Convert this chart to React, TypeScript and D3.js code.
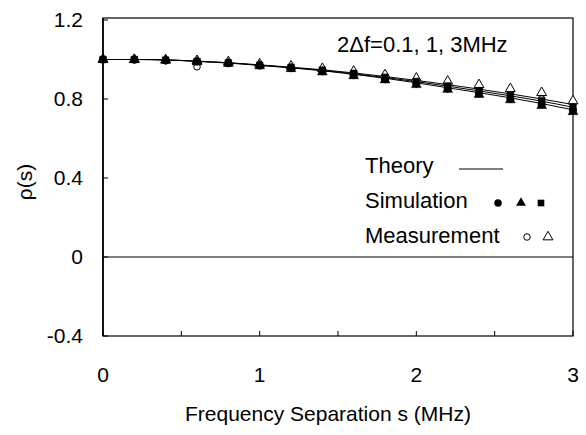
import * as d3 from "d3";

// frequency separation s (MHz)
const sep = [0, 0.2, 0.4, 0.6, 0.8, 1.0, 1.2, 1.4, 1.6, 1.8, 2.0, 2.2, 2.4, 2.6, 2.8, 3.0];

// theory curves for 2Δf = 0.1, 1, 3 MHz
const theory01 = [1.0, 1.0, 0.998, 0.99, 0.982, 0.97, 0.958, 0.943, 0.925, 0.905, 0.882, 0.857, 0.832, 0.806, 0.777, 0.745];
const theory1 = [1.0, 1.0, 0.998, 0.991, 0.983, 0.971, 0.959, 0.945, 0.928, 0.909, 0.888, 0.865, 0.841, 0.816, 0.789, 0.758];
const theory3 = [1.0, 1.0, 0.998, 0.992, 0.984, 0.973, 0.961, 0.948, 0.932, 0.914, 0.894, 0.873, 0.85, 0.826, 0.8, 0.772];

// simulation (filled markers)
const simCircle = [1.0, 1.0, 0.996, 0.99, 0.981, 0.969, 0.956, 0.94, 0.921, 0.9, 0.877, 0.852, 0.828, 0.8, 0.772, 0.742];
const simTriangle = [1.0, 0.999, 0.995, 0.987, 0.979, 0.967, 0.953, 0.936, 0.917, 0.896, 0.872, 0.848, 0.822, 0.795, 0.766, 0.735];
const simSquare = [1.0, 1.0, 0.997, 0.99, 0.983, 0.971, 0.96, 0.946, 0.93, 0.91, 0.889, 0.866, 0.842, 0.818, 0.791, 0.76];

// measurement (open markers)
const measCircle = [1.0, 0.998, 0.993, 0.963, 0.982, 0.97, 0.957, 0.945, 0.929, 0.912, 0.895, 0.872, 0.852, 0.828, 0.8, 0.78];
const measTriangle = [1.0, 1.0, 0.998, 0.994, 0.988, 0.977, 0.966, 0.954, 0.94, 0.922, 0.905, 0.89, 0.872, 0.852, 0.832, 0.79];

const xTicks = [0, 1, 2, 3];
const xMinor = [0.5, 1.5, 2.5];
const yTicks = [-0.4, 0, 0.4, 0.8, 1.2];
const yLabels = ["-0.4", "0", "0.4", "0.8", "1.2"];

const width = 586;
const height = 435;
const margin = { top: 20, right: 13, bottom: 99, left: 103 };
const font = "'Liberation Sans', Arial, sans-serif";

export default function App() {
  const x = d3.scaleLinear().domain([0, 3]).range([margin.left, width - margin.right]);
  const y = d3.scaleLinear().domain([-0.4, 1.2]).range([height - margin.bottom, margin.top]);

  const line = d3
    .line<number>()
    .x((_, i) => x(sep[i]))
    .y((d) => y(d))
    .curve(d3.curveMonotoneX);

  const tri = d3.symbol(d3.symbolTriangle, 42)();
  const circ = d3.symbol(d3.symbolCircle, 44)();
  const sq = d3.symbol(d3.symbolSquare, 44)();
  const circOpen = d3.symbol(d3.symbolCircle, 34)();
  const triOpen = d3.symbol(d3.symbolTriangle, 42)();

  const x0 = x(0), x1 = x(3), yTop = y(1.2), yBot = y(-0.4);

  const markers = (vals: number[], path: string | null, open: boolean, key: string) =>
    vals.map((v, i) => (
      <path
        key={key + i}
        d={path ?? ""}
        transform={`translate(${x(sep[i])},${y(v)})`}
        fill={open ? "white" : "black"}
        stroke="black"
        strokeWidth={open ? 1 : 0.5}
      />
    ));

  return (
    <svg width={width} height={height} style={{ position: "absolute", left: 0, top: 0, background: "white" }}>
      {/* frame */}
      <rect x={x0} y={yTop - 2} width={x1 - x0} height={yBot - yTop + 2} fill="none" stroke="black" strokeWidth={1.2} />
      <line x1={x0} x2={x0} y1={yTop - 2} y2={yBot} stroke="black" strokeWidth={1.6} />
      {/* zero line */}
      <line x1={x0} x2={x1} y1={y(0)} y2={y(0)} stroke="black" strokeWidth={1} />

      {/* ticks */}
      {[...xTicks, ...xMinor].map((t) => (
        <line key={"xt" + t} x1={x(t)} x2={x(t)} y1={yBot} y2={yBot - 5} stroke="black" />
      ))}
      {yTicks.map((t) => (
        <line key={"yt" + t} x1={x0} x2={x0 + 5} y1={y(t)} y2={y(t)} stroke="black" />
      ))}

      {/* tick labels */}
      {xTicks.map((t) => (
        <text key={"xl" + t} x={x(t)} y={382} textAnchor="middle" fontFamily={font} fontSize={21}>
          {String(t)}
        </text>
      ))}
      {yTicks.map((t, i) => (
        <text key={"yl" + t} x={83} y={y(t) + 7} textAnchor="end" fontFamily={font} fontSize={21}>
          {yLabels[i]}
        </text>
      ))}

      {/* axis titles */}
      <text x={328} y={421} textAnchor="middle" fontFamily={font} fontSize={21}>
        Frequency Separation s (MHz)
      </text>
      <text transform="translate(32,182) rotate(-90)" textAnchor="middle" fontFamily={font} fontSize={21}>
        ρ(s)
      </text>

      {/* theory lines */}
      {[theory01, theory1, theory3].map((vals, k) => (
        <path key={"th" + k} d={line(vals) ?? ""} fill="none" stroke="black" strokeWidth={1} />
      ))}

      {/* markers */}
      {markers(measCircle, circOpen, true, "mc")}
      {markers(measTriangle, triOpen, true, "mt")}
      {markers(simSquare, sq, false, "ss")}
      {markers(simCircle, circ, false, "sc")}
      {markers(simTriangle, tri, false, "st")}

      {/* annotation */}
      <text x={337} y={52} fontFamily={font} fontSize={22}>
        2Δf=0.1, 1, 3MHz
      </text>

      {/* legend */}
      <text x={365} y={173} fontFamily={font} fontSize={22}>Theory</text>
      <line x1={459} x2={503} y1={169} y2={169} stroke="black" strokeWidth={1} />
      <text x={365} y={208} fontFamily={font} fontSize={22}>Simulation</text>
      <path d={circ ?? ""} transform="translate(498,203)" fill="black" />
      <path d={tri ?? ""} transform="translate(521,203)" fill="black" />
      <path d={sq ?? ""} transform="translate(541,203)" fill="black" />
      <text x={365} y={243} fontFamily={font} fontSize={22}>Measurement</text>
      <path d={circOpen ?? ""} transform="translate(527,237)" fill="white" stroke="black" />
      <path d={triOpen ?? ""} transform="translate(548,237)" fill="white" stroke="black" />
    </svg>
  );
}
